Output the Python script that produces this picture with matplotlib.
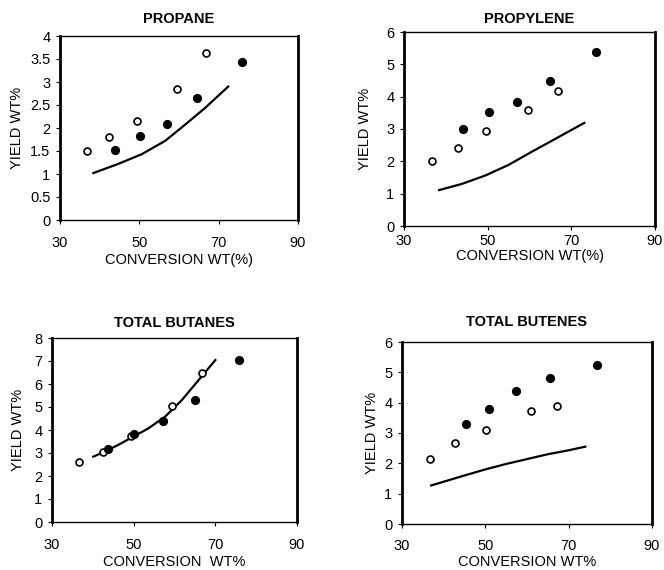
import matplotlib
matplotlib.use("Agg")
import matplotlib.pyplot as plt

plt.rcParams['font.family'] = ['Liberation Sans', 'DejaVu Sans']

# ---------------- data ----------------
titles = ["PROPANE", "PROPYLENE", "TOTAL BUTANES", "TOTAL BUTENES"]
xlabels = ["CONVERSION WT(%)", "CONVERSION WT(%)", "CONVERSION  WT%", "CONVERSION WT%"]
ylabel = "YIELD WT%"
xticks = [30, 50, 70, 90]
yticks_list = [
    [0, 0.5, 1, 1.5, 2, 2.5, 3, 3.5, 4],
    [0, 1, 2, 3, 4, 5, 6],
    [0, 1, 2, 3, 4, 5, 6, 7, 8],
    [0, 1, 2, 3, 4, 5, 6],
]
ytick_labels_list = [
    ["0", "0.5", "1", "1.5", "2", "2.5", "3", "3.5", "4"],
    ["0", "1", "2", "3", "4", "5", "6"],
    ["0", "1", "2", "3", "4", "5", "6", "7", "8"],
    ["0", "1", "2", "3", "4", "5", "6"],
]

# Propane
propane_open_x = [36.7, 42.4, 49.4, 59.5, 66.7]
propane_open_y = [1.51, 1.80, 2.16, 2.84, 3.62]
propane_fill_x = [43.8, 50.1, 57.1, 64.6, 75.9]
propane_fill_y = [1.53, 1.82, 2.08, 2.66, 3.43]
propane_line_x = [38.4, 44.7, 50.6, 56.5, 61.5, 66.5, 72.4]
propane_line_y = [1.02, 1.22, 1.43, 1.72, 2.07, 2.43, 2.90]

# Propylene
propylene_open_x = [36.8, 42.9, 49.7, 59.7, 66.9]
propylene_open_y = [2.01, 2.42, 2.94, 3.60, 4.17]
propylene_fill_x = [44.0, 50.2, 57.1, 64.9, 75.8]
propylene_fill_y = [3.01, 3.54, 3.84, 4.47, 5.39]
propylene_line_x = [38.4, 43.8, 49.4, 55.0, 60.6, 66.1, 73.1]
propylene_line_y = [1.11, 1.30, 1.56, 1.89, 2.30, 2.69, 3.19]

# Total butanes
butanes_open_x = [36.5, 42.5, 49.4, 59.5, 66.8]
butanes_open_y = [2.63, 3.03, 3.72, 5.06, 6.50]
butanes_fill_x = [43.6, 50.1, 57.1, 64.9, 75.8]
butanes_fill_y = [3.18, 3.82, 4.38, 5.30, 7.05]
butanes_line_x = [40.1, 42.9, 46.2, 49.9, 53.6, 57.7, 61.8, 65.9, 70.0]
butanes_line_y = [2.84, 3.06, 3.35, 3.71, 4.07, 4.58, 5.30, 6.17, 7.04]

# Total butenes
butenes_open_x = [36.8, 42.8, 50.2, 61.0, 67.2]
butenes_open_y = [2.15, 2.68, 3.09, 3.73, 3.88]
butenes_fill_x = [45.3, 50.8, 57.4, 65.4, 76.7]
butenes_fill_y = [3.29, 3.80, 4.39, 4.80, 5.25]
butenes_line_x = [37.0, 45, 50, 55, 60, 65, 70, 74.0]
butenes_line_y = [1.27, 1.60, 1.80, 1.98, 2.14, 2.30, 2.43, 2.55]

series = [
    (propane_open_x, propane_open_y, propane_fill_x, propane_fill_y, propane_line_x, propane_line_y),
    (propylene_open_x, propylene_open_y, propylene_fill_x, propylene_fill_y, propylene_line_x, propylene_line_y),
    (butanes_open_x, butanes_open_y, butanes_fill_x, butanes_fill_y, butanes_line_x, butanes_line_y),
    (butenes_open_x, butenes_open_y, butenes_fill_x, butenes_fill_y, butenes_line_x, butenes_line_y),
]

# ---------------- layout (pixels) ----------------
W, H = 664, 570
# axes boxes: x0, x1, y0(top), y1(bottom)
boxes = [(60, 298, 36, 220), (404, 655, 32, 226), (52, 297, 338, 522), (402, 652, 342, 524)]
title_y = [19, 19, 323, 322]
xlab_y = [260, 256, 562, 562]
ylab_x = [17, 365, 18, 372]
xtick_pad_px = [12, 4, 12, 11]

fig = plt.figure(figsize=(W / 100, H / 100), dpi=100)
fig.patch.set_facecolor('white')

for i, (x0, x1, yt, yb) in enumerate(boxes):
    ax = fig.add_axes([x0 / W, 1 - yb / H, (x1 - x0) / W, (yb - yt) / H])
    ox, oy, fx, fy, lx, ly = series[i]
    ax.plot(lx, ly, color='black', lw=1.6, zorder=2, solid_joinstyle='round')
    ax.plot(ox, oy, 'o', ms=5.0, mfc='white', mec='black', mew=1.2, ls='none', zorder=3)
    ax.plot(fx, fy, 'o', ms=5.6, mfc='black', mec='black', ls='none', zorder=3)
    ax.set_xlim(30, 90)
    yt_ = yticks_list[i]
    ax.set_ylim(yt_[0], yt_[-1])
    ax.set_xticks(xticks)
    ax.set_xticklabels([str(v) for v in xticks])
    ax.set_yticks(yt_)
    ax.set_yticklabels(ytick_labels_list[i])
    ax.tick_params(axis='both', direction='out', length=3, width=0.8, labelsize=10.5,
                   colors='black')
    ax.tick_params(axis='y', pad=4)
    ax.tick_params(axis='x', pad=xtick_pad_px[i] * 0.72)
    for s in ['left', 'right']:
        ax.spines[s].set_linewidth(2.0)
        ax.spines[s].set_color('black')
    for s in ['top', 'bottom']:
        ax.spines[s].set_linewidth(1.0)
        ax.spines[s].set_color('black')
        ax.spines[s].set_linestyle((0, (1, 1)))
    fig.text((x0 + x1) / 2 / W, 1 - title_y[i] / H, titles[i], ha='center', va='center',
             fontsize=10.5, fontweight='bold')
    fig.text((x0 + x1) / 2 / W, 1 - xlab_y[i] / H, xlabels[i], ha='center', va='center',
             fontsize=10.5)
    fig.text(ylab_x[i] / W, 1 - (yt + yb) / 2 / H, ylabel, ha='center', va='center',
             rotation=90, fontsize=10.5)

fig.savefig('out.png', dpi=100, facecolor='white')
